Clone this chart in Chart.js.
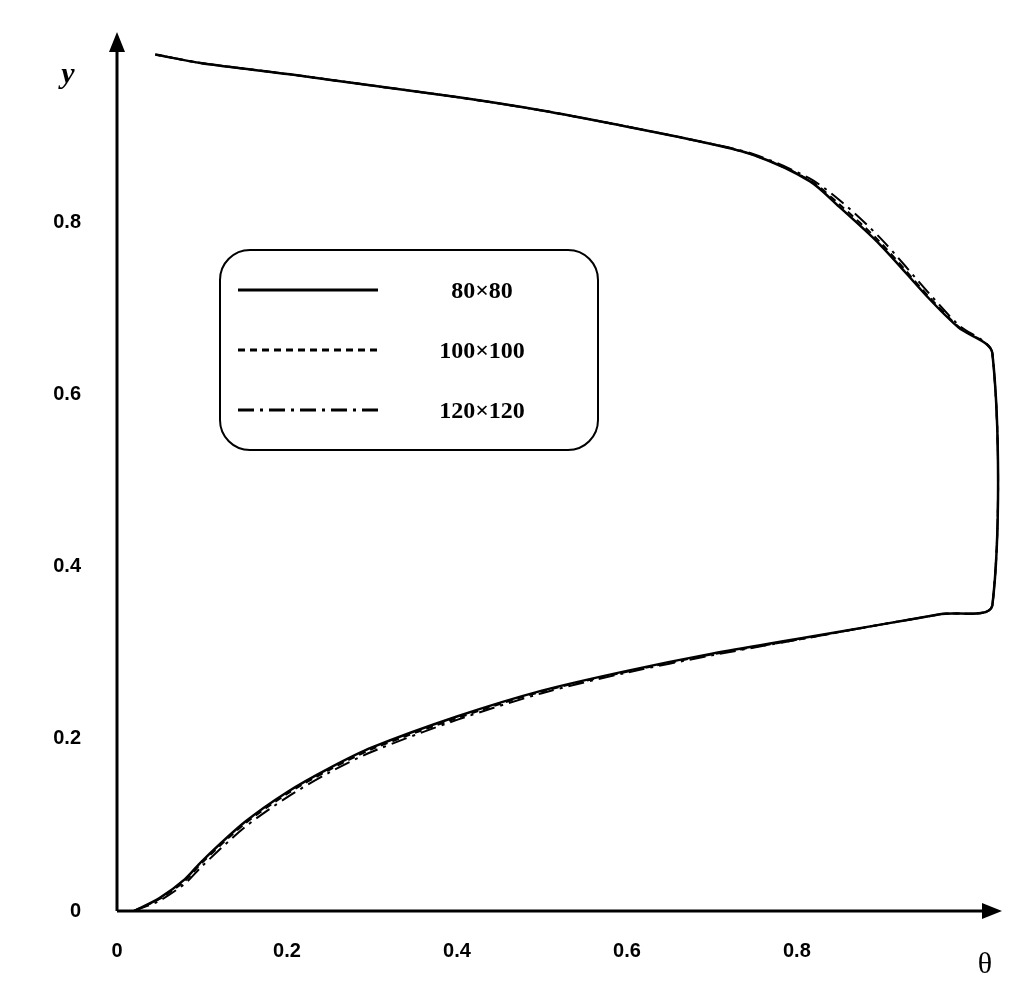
<!DOCTYPE html>
<html><head><meta charset="utf-8">
<script src="https://cdn.jsdelivr.net/npm/chart.js@4"></script>
<style>html,body{margin:0;background:#fff}#w{width:1024px;height:1005px}</style>
</head><body><div id="w"><canvas id="c"></canvas></div>
<script>
const seriesLabels = ['80×80','100×100','120×120'];
const xTicks = [0,0.2,0.4,0.6,0.8];
const yTicks = [0,0.2,0.4,0.6,0.8];
const s80x = [0.02,0.05,0.08,0.1,0.15,0.2,0.25,0.3,0.4,0.5,0.6,0.7,0.8,0.9,0.97,1.03,1.03,0.99,0.956,0.898,0.85,0.815,0.75,0.686,0.586,0.5,0.404,0.3,0.2035,0.1,0.045];
const s80y = [0,0.015,0.037,0.058,0.103,0.138,0.166,0.19,0.226,0.256,0.279,0.299,0.316,0.333,0.345,0.355,0.648,0.678,0.711,0.774,0.818,0.848,0.878,0.894,0.914,0.93,0.945,0.959,0.972,0.985,0.995];
const s100y = [0,0.014,0.035,0.056,0.101,0.136,0.164,0.188,0.224,0.255,0.278,0.298,0.315,0.333,0.345,0.355,0.648,0.679,0.713,0.777,0.821,0.849,0.878,0.894,0.914,0.93,0.945,0.959,0.972,0.985,0.995];
const s120y = [0,0.012,0.032,0.052,0.097,0.132,0.161,0.185,0.222,0.253,0.277,0.297,0.315,0.333,0.345,0.355,0.648,0.681,0.717,0.782,0.826,0.851,0.879,0.894,0.914,0.93,0.945,0.959,0.972,0.985,0.995];
const pts = ys => s80x.map((x,i)=>({x, y: ys[i]}));
const dashes = [[], [7,5], [16,6,3,6]];
const annot = {
  id:'annot',
  afterDraw(ch){
    const c = ch.ctx, xs = ch.scales.x, ys = ch.scales.y;
    const x0 = xs.getPixelForValue(0), y0 = ys.getPixelForValue(0);
    c.save(); c.strokeStyle='#000'; c.fillStyle='#000'; c.lineWidth=3;
    c.beginPath(); c.moveTo(x0,y0); c.lineTo(x0,45); c.moveTo(x0,y0); c.lineTo(990,y0); c.stroke();
    c.beginPath(); c.moveTo(x0,32); c.lineTo(x0-8,52); c.lineTo(x0+8,52); c.closePath(); c.fill();
    c.beginPath(); c.moveTo(1002,y0); c.lineTo(982,y0-8); c.lineTo(982,y0+8); c.closePath(); c.fill();
    c.font='italic bold 30px "Liberation Serif"'; c.textAlign='center'; c.textBaseline='middle';
    c.fillText('y',68,75);
    c.font='30px "Liberation Serif"'; c.fillText('θ',985,965);
    // legend
    c.lineWidth=2; c.beginPath(); c.roundRect(220,250,378,200,30); c.stroke();
    const ly=[290,350,410];
    ch.data.datasets.forEach((d,i)=>{
      c.lineWidth=3; c.setLineDash(dashes[i]);
      c.beginPath(); c.moveTo(238,ly[i]); c.lineTo(378,ly[i]); c.stroke();
      c.setLineDash([]);
      c.font='bold 24px "Liberation Serif"'; c.fillText(d.label,482,ly[i]+2);
    });
    c.restore();
  }
};
new Chart(document.getElementById('c'),{
  type:'scatter',
  data:{datasets:[s80y,s100y,s120y].map((ys,i)=>({label:seriesLabels[i],data:pts(ys),showLine:true,
    borderColor:'#000',borderWidth:i==0?2.5:2,borderDash:dashes[i],pointRadius:0,tension:0.3,fill:false}))},
  options:{responsive:true,maintainAspectRatio:false,animation:false,
    layout:{padding:{top:35,right:24,left:0,bottom:0}},
    plugins:{legend:{display:false},tooltip:{enabled:false}},
    scales:{
      x:{type:'linear',min:0,max:1.039,afterBuildTicks:s=>{s.ticks=xTicks.map(v=>({value:v}))},
        afterFit:s=>{s.height=94},
        grid:{display:false,drawTicks:false},border:{display:false},
        ticks:{padding:28,color:'#000',font:{family:'Liberation Sans',weight:'bold',size:20},callback:v=>v===0?'0':v.toFixed(1)}},
      y:{type:'linear',min:0,max:1.0026,afterBuildTicks:s=>{s.ticks=yTicks.map(v=>({value:v}))},
        afterFit:s=>{s.width=117},
        grid:{display:false,drawTicks:false},border:{display:false},
        ticks:{padding:36,color:'#000',font:{family:'Liberation Sans',weight:'bold',size:20},callback:v=>v===0?'0':v.toFixed(1)}}
    }},
  plugins:[annot]
});
</script></body></html>
